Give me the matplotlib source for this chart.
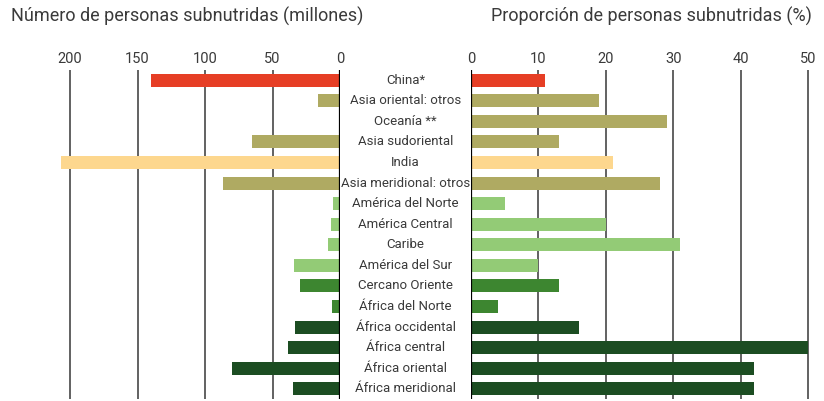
import matplotlib
matplotlib.use("Agg")
import matplotlib.pyplot as plt

plt.rcParams['font.family'] = ['Roboto', 'DejaVu Sans']

categories = ["China*", "Asia oriental: otros", "Oceanía **", "Asia sudoriental", "India",
              "Asia meridional: otros", "América del Norte", "América Central", "Caribe",
              "América del Sur", "Cercano Oriente", "África del Norte", "África occidental",
              "África central", "África oriental", "África meridional"]
millions = [140, 16, 1, 65, 207, 87, 5, 7, 9, 34, 30, 6, 33, 38.5, 80, 35]
percent = [11, 19, 29, 13, 21, 28, 5, 20, 31, 10, 13, 4, 16, 50, 42, 42]
groups = ["china", "asia", "asia", "asia", "india", "asia", "amer", "amer", "amer", "amer",
          "neast", "neast", "africa", "africa", "africa", "africa"]
group_colors = {"china": "#E63E25", "asia": "#AFAA62", "india": "#FDD78E",
                "amer": "#93CB76", "neast": "#3D8630", "africa": "#1C4D22"}
left_ticks = [200, 150, 100, 50, 0]
right_ticks = [0, 10, 20, 30, 40, 50]

W, H = 824, 401
fig = plt.figure(figsize=(W / 100, H / 100), dpi=100)
colors = [group_colors[g] for g in groups]
ypos = list(range(len(categories)))

bottom = (H - 399) / H
top = (H - 70) / H
axL = fig.add_axes([50 / W, bottom, 290 / W, top - bottom])
axR = fig.add_axes([471 / W, bottom, 341 / W, top - bottom])

txt = "#3a3a3a"
for ax, vals, ticks, xlim in [(axL, millions, left_ticks, (290 / 1.35, 0)),
                              (axR, percent, right_ticks, (0, 341 / 6.745))]:
    for t in ticks:
        if t == 0:
            ax.axvline(t, color="black", lw=1.6, zorder=3)
        else:
            ax.axvline(t, color="#555555", lw=1.3, zorder=0)
    ax.barh(ypos, vals, height=0.63, color=colors, zorder=2)
    ax.set_xlim(*xlim)
    ax.set_ylim(15.49, -0.49)
    ax.set_xticks(ticks)
    ax.set_xticklabels([str(t) for t in ticks])
    ax.xaxis.tick_top()
    ax.tick_params(axis='x', length=0, pad=3, labelsize=10.5, labelcolor=txt)
    ax.set_yticks([])
    for s in ax.spines.values():
        s.set_visible(False)
    ax.patch.set_alpha(0)

for i, c in enumerate(categories):
    fig.text(405.5 / W, axL.transData.transform((0, i))[1] / H, c, ha="center", va="center",
             fontsize=9.5, color=txt)

fig.text(11 / W, 1 - 16 / H, "Número de personas subnutridas (millones)", ha="left",
         va="center", fontsize=13, color=txt)
fig.text(812 / W, 1 - 16 / H, "Proporción de personas subnutridas (%)", ha="right",
         va="center", fontsize=13, color=txt)

fig.savefig("out.png", dpi=100)
